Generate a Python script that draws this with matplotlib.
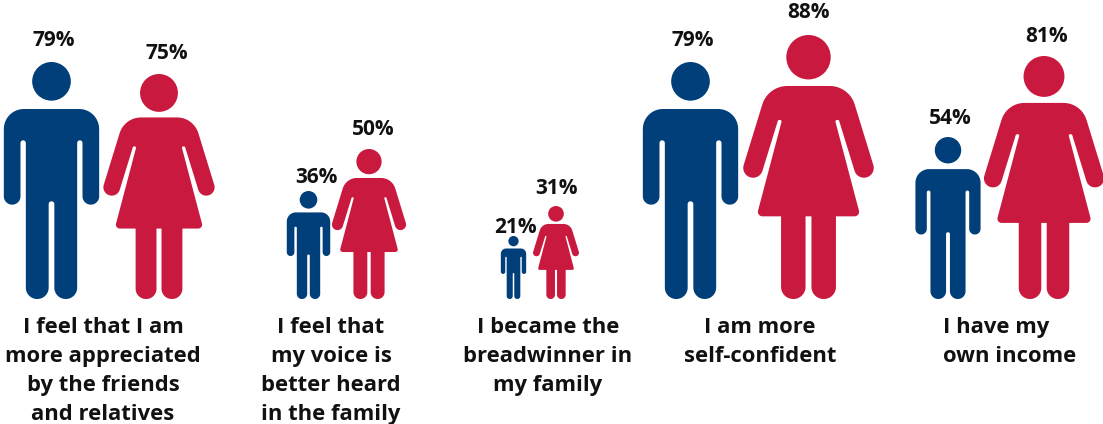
import numpy as np
import matplotlib
matplotlib.use("Agg")
import matplotlib.pyplot as plt
from matplotlib.patches import Circle, Polygon

plt.rcParams['font.family'] = ['Open Sans', 'DejaVu Sans']

categories = [
    "I feel that I am\nmore appreciated\nby the friends\nand relatives",
    "I feel that\nmy voice is\nbetter heard\nin the family",
    "I became the\nbreadwinner in\nmy family",
    "I am more\nself-confident",
    "I have my\nown income",
]
men = [79, 36, 21, 79, 54]
women = [75, 50, 31, 88, 81]

MAN_COLOR = '#003F7A'
WOMAN_COLOR = '#C9193F'

# layout, in pixels of the finished figure
W, H = 1103, 424
BASE = 299
PX = 3.0  # pixels per percentage point
man_x = [51.5, 308.5, 513.5, 690.5, 948]
woman_x = [159, 369, 556, 808.5, 1044]
man_label_x = [54, 316, 515, 692.5, 950]
woman_label_x = [167, 373, 557, 808.5, 1047]
man_label_y = [40, 177, 227, 40, 118]
woman_label_y = [53, 129, 188, 12, 36]
text_x = [103, 331, 548, 760, 1010]
text_align = ['center', 'center', 'center', 'center', 'left']

# half outlines: (x, y, corner radius), feet at y=0, mirrored about x=0
MAN_H = 711
MAN_HEAD = (653, 58)
MAN_OUT = [(143, 570, 60), (143, 283, 25), (93, 283, 25), (93, 476, 8), (77, 476, 8),
           (77, 0, 34), (8.5, 0, 34), (8.5, 293, 8)]

WOMAN_H = 808
WOMAN_HEAD = (740, 68)
WOMAN_OUT = [(124, 652, 80), (207, 382, 30), (150, 363, 30), (93, 548, 5), (81, 548, 5),
             (159, 253, 14), (84, 253, 0), (84, 0, 37), (9, 0, 37), (9, 253, 0)]


def round_outline(verts):
    # replace each corner with a circular arc
    pts = []
    n = len(verts)
    for i in range(n):
        p = np.array(verts[i][:2], float)
        r = verts[i][2]
        if r == 0:
            pts.append(p)
            continue
        a = np.array(verts[i - 1][:2], float) - p
        b = np.array(verts[(i + 1) % n][:2], float) - p
        a /= np.linalg.norm(a)
        b /= np.linalg.norm(b)
        half = np.arccos(np.clip(a @ b, -1, 1)) / 2
        d = r / np.tan(half)
        mid = (a + b) / np.linalg.norm(a + b)
        c = p + mid * r / np.sin(half)
        s, e = p + a * d - c, p + b * d - c
        t0 = np.arctan2(s[1], s[0])
        t1 = np.arctan2(e[1], e[0])
        dt = (t1 - t0 + np.pi) % (2 * np.pi) - np.pi
        for t in np.linspace(t0, t0 + dt, 14):
            pts.append(c + r * np.array([np.cos(t), np.sin(t)]))
    return np.array(pts)


def draw_person(ax, cx, value, half, head, full_h, color):
    k = value / full_h
    verts = half + [(-x, y, r) for x, y, r in reversed(half)]
    outline = round_outline(verts)
    ax.add_patch(Polygon(np.c_[cx + outline[:, 0] * k, outline[:, 1] * k],
                         closed=True, fc=color, ec='none'))
    ax.add_patch(Circle((cx, head[0] * k), head[1] * k, fc=color, ec='none'))


fig = plt.figure(figsize=(W / 100, H / 100), dpi=100)
ax = fig.add_axes([0, 0, 1, 1])
# y axis runs in percent with the feet at 0, x uses the same scale
ax.set_xlim(0, W / PX)
ax.set_ylim((BASE - H) / PX, BASE / PX)
ax.axis('off')

for i in range(len(categories)):
    mx, wx = man_x[i] / PX, woman_x[i] / PX
    draw_person(ax, mx, men[i], MAN_OUT, MAN_HEAD, MAN_H, MAN_COLOR)
    draw_person(ax, wx, women[i], WOMAN_OUT, WOMAN_HEAD, WOMAN_H, WOMAN_COLOR)
    ax.text(man_label_x[i] / PX, (BASE - man_label_y[i]) / PX, f"{men[i]}%", ha='center', va='center',
            fontsize=15, fontweight='bold', color='#111111')
    ax.text(woman_label_x[i] / PX, (BASE - woman_label_y[i]) / PX, f"{women[i]}%", ha='center', va='center',
            fontsize=15, fontweight='bold', color='#111111')
    ax.text(text_x[i] / PX, -6.0, categories[i], ha='center', va='top', ma=text_align[i], fontsize=15.8,
            fontweight='bold', color='#111111', linespacing=1.5)

fig.savefig('out.png', dpi=100)
